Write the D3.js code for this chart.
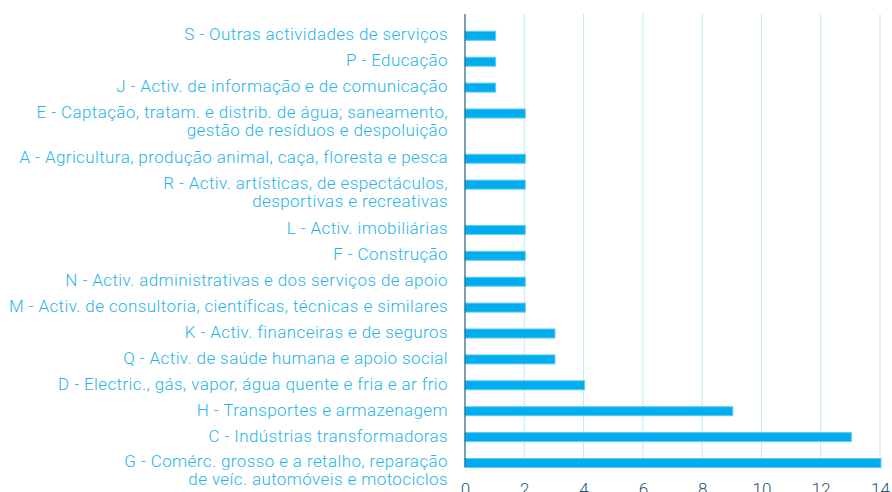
<!DOCTYPE html>
<html>
<head>
<meta charset="utf-8">
<script src="https://cdn.jsdelivr.net/npm/d3@7"></script>
<style>
  body { margin: 0; background: #fff; }
  svg { display: block; font-family: "Helvetica Neue", Roboto, sans-serif; font-weight: 300; }
</style>
</head>
<body>
<svg width="892" height="492"></svg>
<script>
var categories = [
  "S - Outras actividades de serviços",
  "P - Educação",
  "J - Activ. de informação e de comunicação",
  "E - Captação, tratam. e distrib. de água; saneamento,\ngestão de resíduos e despoluição",
  "A - Agricultura, produção animal, caça, floresta e pesca",
  "R - Activ. artísticas, de espectáculos,\ndesportivas e recreativas",
  "L - Activ. imobiliárias",
  "F - Construção",
  "N - Activ. administrativas e dos serviços de apoio",
  "M - Activ. de consultoria, científicas, técnicas e similares",
  "K - Activ. financeiras e de seguros",
  "Q - Activ. de saúde humana e apoio social",
  "D - Electric., gás, vapor, água quente e fria e ar frio",
  "H - Transportes e armazenagem",
  "C - Indústrias transformadoras",
  "G - Comérc. grosso e a retalho, reparação\nde veíc. automóveis e motociclos"
];
var values = [1, 1, 1, 2, 2, 2, 2, 2, 2, 2, 3, 3, 4, 9, 13, 14];
var xTicks = [0, 2, 4, 6, 8, 10, 12, 14];

var svg = d3.select("svg"),
    margin = {top: 14, right: 12, bottom: 25, left: 465},
    width = +svg.attr("width") - margin.left - margin.right,
    height = +svg.attr("height") - margin.top - margin.bottom,
    g = svg.append("g").attr("transform", "translate(" + margin.left + "," + margin.top + ")");

// each row takes one slot, plus a bit more for every extra label line
var extraLine = 0.747;
var rows = [], pos = 0;
categories.forEach(function(c, i) {
  var lines = c.split("\n");
  rows.push({name: c, lines: lines, value: values[i], slot: pos});
  pos += 1 + extraLine * (lines.length - 1);
});

var x = d3.scaleLinear().domain([0, 14]).range([0, 415]);
var y = d3.scaleLinear()
    .domain([0, rows[rows.length - 1].slot])
    .range([21.8, 449]);

// grid
g.append("g")
    .selectAll("line")
    .data(xTicks.slice(1))
    .enter().append("line")
    .attr("x1", function(d) { return x(d); })
    .attr("x2", function(d) { return x(d); })
    .attr("y1", 0)
    .attr("y2", height)
    .attr("stroke", "#c3e7f7")
    .attr("stroke-width", 1);

// x axis
var xAxis = g.append("g")
    .attr("transform", "translate(0," + height + ")")
    .call(d3.axisBottom(x).tickValues(xTicks).tickSize(0).tickPadding(16).tickFormat(d3.format("d")));
xAxis.select(".domain").remove();
xAxis.selectAll("text")
    .attr("fill", "#1f5673")
    .style("font-size", "17px")
    .style("font-family", "\"Helvetica Neue\", Roboto, sans-serif");

// bars
g.selectAll(".bar")
    .data(rows)
    .enter().append("rect")
    .attr("class", "bar")
    .attr("x", x(0))
    .attr("y", function(d) { return y(d.slot) - 4.5; })
    .attr("width", function(d) { return x(d.value) - x(0) + 1; })
    .attr("height", 9)
    .attr("fill", "#00aeef")
    .attr("stroke", "#5fcaf3")
    .attr("stroke-width", 1);

// y axis line
g.append("line")
    .attr("x1", 0).attr("x2", 0)
    .attr("y1", 0).attr("y2", height)
    .attr("stroke", "#24617f")
    .attr("stroke-width", 1.2);

// category labels
var label = g.selectAll(".label")
    .data(rows)
    .enter().append("text")
    .attr("class", "label")
    .attr("text-anchor", "end")
    .attr("fill", "#27b4e8")
    .style("font-size", "17px")
    .style("letter-spacing", "0.4px");

label.selectAll("tspan")
    .data(function(d) { return d.lines.map(function(l, i) { return {t: l, i: i, slot: d.slot}; }); })
    .enter().append("tspan")
    .attr("x", -17)
    .attr("y", function(d) { return y(d.slot) - 1.5 + d.i * 18; })
    .attr("dy", "0.35em")
    .text(function(d) { return d.t; });
</script>
</body>
</html>
